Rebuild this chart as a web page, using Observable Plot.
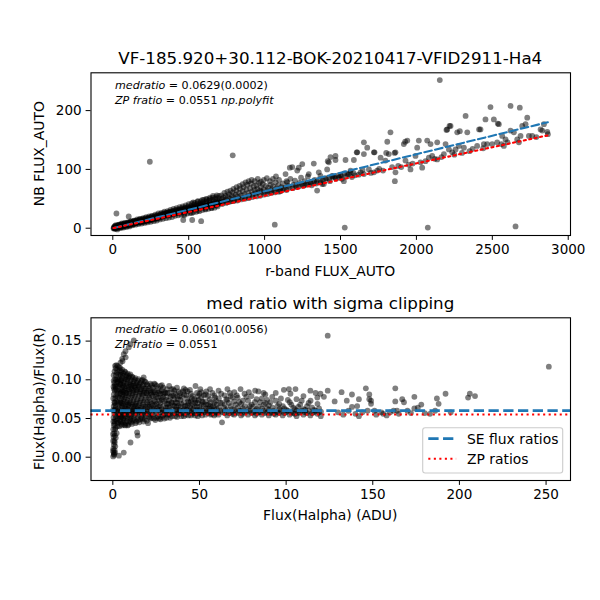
<!DOCTYPE html>
<html><head><meta charset="utf-8">
<script src="https://cdn.jsdelivr.net/npm/d3@7"></script>
<script src="https://cdn.jsdelivr.net/npm/@observablehq/plot@0.6"></script>
<style>
html,body{margin:0;padding:0;background:#fff;}
#fig{position:relative;width:600px;height:600px;font-family:"DejaVu Sans",sans-serif;}
#fig svg{position:absolute;left:0;top:0;}
</style></head><body><div id="fig"></div>
<script>
// ---- text ----
const titleTop = "VF-185.920+30.112-BOK-20210417-VFID2911-Ha4";
const titleBottom = "med ratio with sigma clipping";
const xLabelTop = "r-band FLUX_AUTO";
const yLabelTop = "NB FLUX_AUTO";
const xLabelBottom = "Flux(Halpha) (ADU)";
const yLabelBottom = "Flux(Halpha)/Flux(R)";
const legendLabels = ["SE flux ratios", "ZP ratios"];

// ---- fitted values ----
const seRatioTop = 0.0629, seErrTop = 0.0002;
const seRatioBottom = 0.0601, seErrBottom = 0.0056;
const zpRatio = 0.0551;

// ---- ticks ----
const topXTicks = [0, 500, 1000, 1500, 2000, 2500, 3000];
const topYTicks = [0, 100, 200];
const botXTicks = [0, 50, 100, 150, 200, 250];
const botYTicks = [0, 0.05, 0.10, 0.15];

// ---- top panel: [r-band FLUX_AUTO, NB FLUX_AUTO] ----
const topPoints = [
[5,0],[7,2],[9,-1],[11,1],[13,3],[15,0],[17,2],[19,-1],[21,3],[23,1],[25,2],[27,0],[29,4],[31,2],[33,1],[35,3],[37,5],[39,2],[41,4],[43,1],[45,3],[47,5],[49,2],[52,4],[55,6],[58,3],[61,5],[64,2],[67,6],[70,4],[73,7],[76,3],[79,5],[82,7],[85,4],[88,6],[91,8],[94,5],[97,7],[100,4],[103,8],[106,6],[109,9],[112,5],[115,8],[118,10],[121,7],[124,9],[127,6],[130,10],[133,8],[136,11],[139,7],[142,9],[145,12],[148,8],[151,11],[154,9],[157,12],[160,10],[164,13],[168,9],[172,12],[176,10],[180,14],[184,11],[188,13],[192,10],[196,14],[200,12],[204,15],[208,11],[212,14],[216,13],[220,16],[224,12],[228,15],[232,14],[236,17],[240,13],[244,16],[248,15],[252,18],[256,14],[260,17],[264,16],[268,19],[272,15],[276,18],[280,17],[284,20],[288,16],[292,19],[296,18],[300,21],
[20,5],[40,6],[60,8],[80,9],[100,10],[120,12],[140,13],[160,15],[180,16],[200,17],[220,19],[240,20],[260,21],[280,23],[300,25],[320,26],[340,28],[360,29],[380,31],[400,33],[420,34],[440,36],[460,37],[480,39],[500,41],[520,42],[540,43],[560,45],[580,46],[600,48],[620,49],[640,50],[660,52],[680,53],[700,55],
[30,-2],[50,0],[70,1],[90,2],[110,3],[130,5],[150,6],[170,7],[190,8],[210,9],[230,10],[250,11],[270,12],[290,13],[310,15],[330,16],[350,17],[370,18],[390,19],[410,21],[430,22],[450,23],[470,24],[490,25],[510,26],[530,27],[550,28],[570,29],[590,31],[610,32],[630,33],[650,34],[670,35],[690,37],
[12,0],[22,2],[32,2],[42,3],[52,3],[62,4],[72,5],[82,5],[92,6],[102,6],[112,7],[122,8],[132,8],[142,9],[152,10],[162,10],[172,11],[182,11],[192,12],[202,13],[212,13],[222,14],[232,15],[242,15],[252,16],[262,16],[272,17],[282,18],[292,18],[302,19],[312,20],[322,20],[332,21],[342,22],[352,22],[362,23],[372,23],[382,24],[392,25],[402,25],[412,26],[422,27],[432,27],[442,28],[452,28],[462,29],[472,30],[482,30],[492,31],[502,32],[512,32],[522,33],[532,33],[542,34],[552,35],[562,35],[572,36],[582,37],[592,37],[602,38],[612,38],[622,39],[632,40],[642,40],[652,41],[662,42],[672,42],[682,43],[692,43],[702,44],
[15,4],[35,5],[55,7],[75,8],[95,9],[115,11],[135,12],[155,13],[175,15],[195,16],[215,17],[235,18],[255,20],[275,21],[295,22],[315,24],[335,25],[355,26],[375,28],[395,29],[415,31],[435,32],[455,34],[475,35],[495,37],[515,38],[535,40],[555,41],[575,42],[595,44],[615,45],[635,47],[655,48],[675,50],[695,51],
[304,17],[308,20],[312,22],[316,19],[320,21],[324,23],[328,20],[332,22],[336,25],[340,21],[344,24],[348,22],[352,26],[356,23],[360,25],[364,22],[368,27],[372,24],[376,26],[380,23],[384,28],[388,25],[392,27],[396,24],[400,29],[404,26],[408,28],[412,25],[416,30],[420,27],[424,29],[428,26],[432,31],[436,28],[440,30],[444,27],[448,32],[452,29],[456,31],[460,28],[464,33],[468,30],[472,32],[476,29],[480,34],[484,31],[488,33],[492,30],[496,35],[500,32],[505,34],[510,31],[515,36],[520,33],[525,35],[530,32],[535,37],[540,34],[545,36],[550,33],[555,38],[560,35],[565,37],[570,34],[575,40],[580,36],[585,38],[590,35],[595,41],[600,37],[606,39],[612,36],[618,42],[624,38],[630,40],[636,37],[642,43],[648,39],[654,41],[660,38],[666,45],[672,40],[678,43],[684,39],[690,46],[696,41],[700,44],
[470,22],[520,26],[560,30],[610,33],[650,35],[530,44],[560,46],[590,48],[615,50],[640,52],[660,55],[685,56],[464,14],[523,14],[582,12],[24,25],[105,20],[244,113],[790,124],
[705,47],[712,43],[718,50],[724,45],[730,52],[736,47],[742,55],[748,49],[754,44],[760,53],[766,58],[772,50],[778,46],[784,55],[790,61],[796,52],[802,48],[808,57],[814,64],[820,54],[826,49],[832,60],[838,67],[844,56],[850,51],[856,63],[862,70],[868,58],[874,53],[880,66],[886,74],[892,60],[898,55],[904,68],[910,76],[916,62],[922,57],[928,71],[934,65],[940,59],[946,73],[952,67],[958,61],[964,77],[970,64],[976,70],[982,62],[988,75],[994,66],[1000,60],[1008,72],[1016,64],[1024,69],[1032,62],[1040,74],[1048,66],[1056,71],[1064,64],[1072,78],[1080,68],[1090,73],[1100,66],[1067,6],
[715,56],[735,60],[755,62],[775,64],[795,67],[815,70],[835,72],[855,75],[875,78],[895,80],[915,82],[935,80],[955,84],[975,79],[995,82],[1015,85],[1035,80],[1055,84],[1075,88],[1095,82],
[720,41],[745,43],[770,45],[795,46],[820,47],[845,49],[870,50],[895,51],[920,53],[945,54],[970,55],[995,57],[1020,58],[1045,60],[1070,61],[1095,62],
[1105,63],[1125,66],[1145,65],[1165,69],[1185,68],[1205,72],[1225,71],[1245,74],[1265,73],[1285,77],[1305,76],[1325,80],[1345,79],[1365,83],[1385,82],[1405,85],[1425,84],[1445,88],[1465,87],[1485,90],[1505,89],[1525,93],[1545,92],[1565,95],[1585,94],
[1110,70],[1120,76],[1130,68],[1138,92],[1145,80],[1149,78],[1155,72],[1166,103],[1170,84],[1182,104],[1190,74],[1200,81],[1210,70],[1215,98],[1225,103],[1230,77],[1240,86],[1248,109],[1255,72],[1265,80],[1275,75],[1285,88],[1291,92],[1300,78],[1310,73],[1324,110],[1330,82],[1340,76],[1346,64],[1357,95],[1368,89],[1370,78],[1379,75],[1390,75],[1400,84],[1412,100],[1416,114],[1423,112],[1430,80],[1434,121],[1445,89],[1456,87],[1467,123],[1467,116],[1470,84],[1490,86],[1500,90],[1510,84],[1522,80],[1528,1],[1533,116],[1540,88],[1555,92],[1566,98],[1575,87],[1588,116],[1595,90],
[1607,129],[1610,129],[1620,91],[1632,95],[1645,99],[1654,146],[1654,126],[1654,92],[1676,137],[1687,100],[1700,94],[1720,129],[1720,95],[1724,129],[1742,98],[1755,101],[1764,120],[1780,98],[1796,115],[1801,128],[1808,147],[1818,126],[1829,163],[1840,104],[1856,128],[1858,80],[1862,129],[1862,95],[1880,106],[1900,104],[1917,143],[1926,147],[1928,115],[1940,149],[1950,108],[1961,100],[1975,110],[1994,123],[2005,137],[2016,149],[2027,112],[2038,103],[2060,114],[2071,149],[2075,1],[2082,120],[2093,143],[2104,123],[2120,118],[2137,146],[2137,117],[2154,252],[2165,121],[2181,126],[2192,143],[2198,167],[2203,168],[2214,134],[2218,174],[2225,174],[2236,129],[2250,125],[2258,134],[2269,163],[2280,140],[2286,165],[2300,128],[2313,137],[2324,191],[2335,163],[2350,131],[2370,135],[2400,140],[2413,168],[2422,168],[2440,136],[2444,143],[2455,185],[2466,143],[2488,206],[2499,143],[2510,185],[2532,146],[2536,178],[2543,177],[2560,143],[2565,157],[2576,140],[2587,151],[2600,146],[2620,208],[2620,166],[2642,163],[2653,3],[2664,151],[2675,146],[2681,205],[2686,157],[2697,174],[2719,177],[2730,188],[2741,157],[2763,157],[2790,155],[2818,168],[2829,166],[2840,177],[2862,164],[2866,160]
];

// ---- bottom panel: [Flux(Halpha), Flux(Halpha)/Flux(R)] ----
const bottomPoints = [
[0.2,0.001],[0.5,0.006],[0.3,0.011],[0.8,0.003],[0.6,0.016],[0.2,0.021],[1.0,0.009],[0.4,0.026],[0.8,0.031],[0.3,0.036],[1.1,0.019],[0.6,0.041],[1.0,0.046],[0.4,0.051],[1.3,0.036],[0.8,0.056],[1.2,0.061],[0.5,0.066],[1.5,0.049],[0.9,0.071],[1.4,0.076],[0.6,0.081],[1.7,0.064],[1.1,0.086],[1.6,0.091],[0.8,0.096],[1.9,0.079],[1.3,0.101],[1.8,0.106],[1.0,0.111],[2.1,0.094],[1.6,0.115],[2.3,0.109],[2.0,0.119],[2.6,0.101],[2.4,0.086],[2.7,0.071],[2.5,0.057],[2.8,0.044],[2.2,0.031],[3.0,0.078],[3.2,0.092],[3.1,0.063],[3.3,0.107],[3.0,0.050],[1.7,0.025],[1.4,0.014],[0.3,0.046],[0.2,0.061],[0.3,0.076],[0.4,0.091],[0.5,0.106],
[0.1,0.030],[0.6,0.004],[1.2,0.028],[0.9,0.043],[1.5,0.067],[0.7,0.088],[1.2,0.093],[1.9,0.100],[2.5,0.113],[2.9,0.097],[2.6,0.082],[2.0,0.072],[2.3,0.060],[1.9,0.053],[2.6,0.040],[1.6,0.038],[1.1,0.070],[0.5,0.099],[2.8,0.118],[1.3,0.118],[0.9,0.021],[1.3,0.006],[0.1,0.008],[0.7,0.060],[1.8,0.088],[2.2,0.047],[3.3,0.070],[3.4,0.085],[3.2,0.100],[3.4,0.055],[3.2,0.045],
[3.5,0.002],[6.3,0.006],[10.2,0.019],[14.0,0.032],[14.3,0.028],[3.6,0.116],[4.4,0.122],[5.4,0.127],[6.3,0.133],[7.3,0.137],[9.2,0.142],[10.2,0.146],[12.1,0.151],[7.4,0.129],[5.6,0.124],[124,0.157],[251.6,0.117],
[3.8,0.040],[3.8,0.053],[3.9,0.064],[3.8,0.077],[3.9,0.088],[3.8,0.100],[3.9,0.112],
[4.2,0.047],[4.2,0.059],[4.3,0.071],[4.2,0.082],[4.3,0.095],[4.2,0.107],[4.3,0.115],
[4.6,0.046],[4.6,0.058],[4.7,0.070],[4.6,0.083],[4.7,0.094],[4.6,0.106],
[5.0,0.043],[5.0,0.052],[5.1,0.064],[5.0,0.076],[5.1,0.087],[5.0,0.099],[5.1,0.110],
[5.4,0.041],[5.5,0.054],[5.4,0.066],[5.5,0.078],[5.4,0.090],[5.5,0.102],[5.4,0.113],
[5.8,0.045],[5.8,0.057],[5.9,0.069],[5.8,0.081],[5.9,0.093],[5.8,0.105],
[6.3,0.048],[6.2,0.060],[6.3,0.072],[6.2,0.084],[6.3,0.096],[6.2,0.108],
[6.7,0.042],[6.7,0.051],[6.8,0.063],[6.7,0.075],[6.8,0.086],[6.7,0.098],[6.8,0.111],
[7.2,0.041],[7.1,0.053],[7.2,0.065],[7.1,0.077],[7.2,0.089],[7.1,0.101],[7.2,0.110],
[7.6,0.044],[7.6,0.056],[7.7,0.068],[7.6,0.080],[7.7,0.092],[7.6,0.104],
[8.1,0.047],[8.0,0.059],[8.1,0.071],[8.0,0.083],[8.1,0.095],[8.0,0.106],
[8.5,0.041],[8.5,0.050],[8.6,0.062],[8.5,0.074],[8.6,0.087],[8.5,0.099],[8.6,0.108],
[9.0,0.042],[9.1,0.055],[9.0,0.067],[9.1,0.079],[9.0,0.091],[9.1,0.103],
[9.5,0.046],[9.5,0.058],[9.6,0.070],[9.5,0.082],[9.6,0.094],[9.5,0.105],
[10.0,0.049],[9.9,0.061],[10.0,0.073],[9.9,0.085],[10.0,0.097],[10.1,0.107],
[10.5,0.045],[10.5,0.053],[10.6,0.065],[10.5,0.077],[10.6,0.089],[10.5,0.100],
[11.0,0.043],[11.1,0.056],[11.0,0.068],[11.1,0.080],[11.0,0.092],[11.1,0.104],
[11.5,0.047],[11.5,0.059],[11.6,0.071],[11.5,0.083],[11.6,0.095],[11.5,0.103],
[12.0,0.050],[12.1,0.062],[12.0,0.074],[12.1,0.086],[12.0,0.098],
[12.6,0.048],[12.6,0.054],[12.7,0.066],[12.6,0.078],[12.7,0.090],[12.6,0.100],
[13.1,0.044],[13.0,0.057],[13.1,0.069],[13.0,0.081],[13.1,0.093],[13.0,0.102],
[13.6,0.046],[13.6,0.060],[13.7,0.072],[13.6,0.084],[13.7,0.096],
[14.2,0.051],[14.1,0.063],[14.2,0.075],[14.1,0.087],[14.2,0.099],
[14.8,0.048],[14.8,0.055],[14.9,0.067],[14.8,0.079],[14.9,0.091],[14.8,0.101],
[15.3,0.045],[15.4,0.058],[15.3,0.070],[15.4,0.082],[15.3,0.094],
[15.9,0.049],[15.9,0.061],[16.0,0.073],[15.9,0.085],[16.0,0.096],
[16.5,0.052],[16.4,0.064],[16.5,0.076],[16.4,0.088],[16.5,0.099],
[17.1,0.050],[17.1,0.056],[17.2,0.068],[17.1,0.080],[17.2,0.092],[17.1,0.100],
[17.7,0.046],[17.8,0.059],[17.7,0.071],[17.8,0.083],[17.7,0.094],[17.8,0.103],
[18.3,0.049],[18.3,0.062],[18.4,0.074],[18.3,0.086],[18.4,0.098],
[19.0,0.053],[18.9,0.065],[19.0,0.077],[18.9,0.089],[19.0,0.097],
[19.6,0.047],[19.6,0.059],[19.7,0.071],[19.6,0.083],[19.7,0.094],
[20.3,0.044],[20.2,0.056],[20.3,0.068],[20.2,0.080],[20.3,0.092],
[21.0,0.052],[21.0,0.059],[21.1,0.065],[21.0,0.077],[21.1,0.089],
[21.6,0.050],[21.7,0.062],[21.6,0.074],[21.7,0.086],[21.6,0.095],
[22.3,0.051],[22.3,0.057],[22.4,0.069],[22.3,0.081],[22.4,0.093],
[23.0,0.055],[23.1,0.067],[23.0,0.079],[23.1,0.090],
[23.8,0.050],[23.8,0.062],[23.9,0.074],[23.8,0.086],[23.9,0.095],
[24.5,0.048],[24.4,0.060],[24.5,0.072],[24.4,0.084],[24.5,0.094],
[25.2,0.051],[25.2,0.057],[25.3,0.069],[25.2,0.081],[25.3,0.092],
[26.0,0.053],[26.1,0.065],[26.0,0.077],[26.1,0.089],
[26.8,0.050],[26.8,0.061],[26.9,0.073],[26.8,0.085],
[27.5,0.049],[27.4,0.058],[27.5,0.070],[27.4,0.082],[27.5,0.092],
[28.2,0.052],[28.2,0.062],[28.3,0.074],[28.2,0.086],[28.3,0.093],
[29.0,0.054],[29.1,0.066],[29.0,0.078],[29.1,0.090],
[29.7,0.050],[29.7,0.060],[29.8,0.072],[29.7,0.084],
[4.0,0.094],[4.4,0.052],[4.8,0.100],[5.2,0.070],[5.6,0.085],[6.0,0.050],[6.5,0.091],[6.9,0.057],[7.4,0.083],[7.8,0.062],[8.3,0.101],[8.8,0.068],[9.3,0.087],[9.8,0.052],[10.3,0.093],[10.8,0.060],[11.3,0.087],[11.8,0.066],[12.3,0.092],[12.9,0.060],[13.4,0.087],[13.9,0.066],[14.5,0.093],[15.0,0.061],[15.6,0.088],[16.2,0.058],[16.8,0.082],[17.4,0.065],[18.0,0.089],[18.6,0.056],[19.3,0.083],[19.9,0.065],[20.6,0.086],[21.3,0.071],[22.0,0.083],[22.7,0.063],[23.4,0.084],[24.1,0.068],[24.8,0.078],[25.6,0.063],[26.4,0.083],[27.1,0.066],[27.8,0.077],[28.6,0.058],[29.3,0.082],
[31,0.051],[31,0.060],[31.2,0.069],[31,0.078],[31.2,0.088],
[32.5,0.055],[32.6,0.064],[32.5,0.073],[32.6,0.083],[32.5,0.092],
[34,0.053],[34.1,0.062],[34,0.071],[34.1,0.080],
[35.5,0.057],[35.6,0.066],[35.5,0.075],[35.6,0.086],
[37,0.052],[37.1,0.061],[37,0.070],[37.1,0.079],[37,0.090],
[39,0.056],[39.1,0.065],[39,0.074],[39.1,0.083],
[41,0.053],[41.1,0.062],[41,0.071],[41.1,0.081],[41,0.089],
[43,0.058],[43.1,0.067],[43,0.076],[43.1,0.085],
[45,0.054],[45.1,0.063],[45,0.072],[45.1,0.082],
[47,0.057],[47.1,0.066],[47,0.075],[47.7,0.092],
[49,0.053],[49.1,0.061],[49,0.070],[49.1,0.079],
[51,0.058],[51.1,0.068],[51,0.077],[51.1,0.084],
[53.5,0.055],[53.6,0.063],[53.5,0.072],[53.6,0.081],
[56,0.059],[56.1,0.066],[56,0.075],[56.1,0.088],
[58.5,0.054],[58.6,0.062],[58.5,0.070],[58.6,0.080],
[30.3,0.056],[30.3,0.083],[31.8,0.065],[33.3,0.059],[33.3,0.078],[34.8,0.067],[34.8,0.088],[36.3,0.061],[36.3,0.071],[38,0.058],[38,0.067],[38,0.085],[40,0.060],[40,0.078],[42,0.055],[42,0.066],[42,0.087],[44,0.060],[44,0.070],[46,0.056],[46,0.069],[46,0.079],[48,0.060],[48,0.073],[50,0.056],[50,0.065],[50,0.082],[52,0.060],[52,0.071],[55,0.057],[55,0.068],[55,0.079],[57,0.056],[57,0.064],[59.5,0.058],[59.5,0.073],
[30.7,0.064],[30.7,0.074],[31.5,0.055],[31.5,0.083],[32,0.069],[33,0.051],[33.8,0.070],[33.8,0.088],[34.5,0.057],[35,0.079],[36,0.053],[36,0.082],[36.7,0.065],[37.5,0.056],[37.5,0.075],[38.5,0.061],[38.5,0.079],[39.5,0.053],[39.5,0.069],[40.5,0.057],[40.5,0.085],[41.5,0.066],[42.5,0.061],[42.5,0.080],[43.5,0.054],[43.5,0.072],[44.5,0.065],[44.5,0.087],[45.5,0.058],[45.5,0.076],[46.5,0.062],[47.5,0.054],[47.5,0.070],[48.5,0.065],[48.5,0.083],[49.5,0.057],[49.5,0.074],[50.5,0.061],[50.5,0.088],[51.5,0.054],[51.5,0.072],[52.5,0.066],[52.5,0.080],[53,0.058],[54,0.068],[54,0.085],[54.5,0.060],[55.5,0.063],[56.5,0.055],[56.5,0.071],[57.5,0.060],[57.5,0.083],[58,0.066],[59,0.056],[59,0.077],[60,0.062],[60,0.068],
[61,0.055],[61,0.064],[61.2,0.076],[61,0.086],
[63,0.045],[63.2,0.058],[63,0.070],
[64.5,0.057],[64.6,0.068],[64.5,0.080],
[66,0.054],[66.1,0.062],[66,0.074],[66.1,0.088],
[68,0.058],[68.1,0.066],[68,0.079],
[70,0.055],[70.1,0.061],[70,0.072],[70.1,0.084],
[72,0.057],[72.1,0.064],[72,0.077],
[73.7,0.088],[74,0.054],[74.1,0.060],[74,0.069],
[76,0.058],[76.1,0.066],[76,0.082],
[78,0.055],[78.1,0.062],[78,0.073],
[80,0.057],[80.1,0.068],[80,0.079],
[82,0.054],[82.1,0.060],[82,0.071],[82.1,0.086],
[84,0.058],[84.1,0.065],[84,0.085],
[86,0.055],[86.1,0.063],[86,0.076],
[88,0.057],[88.1,0.070],[88,0.081],
[90,0.054],[90.1,0.061],[90,0.067],
[92,0.058],[92.1,0.064],[92,0.078],
[94,0.055],[94.1,0.073],[94,0.083],
[96,0.057],[96.1,0.062],[96,0.069],
[98,0.054],[98.1,0.066],[98.7,0.087],
[100,0.058],[100.1,0.061],[101.6,0.088],
[102,0.055],[102.1,0.071],[102.5,0.082],
[104,0.057],[104.1,0.064],[105.4,0.088],
[106,0.053],[106.1,0.060],[106,0.075],
[108,0.058],[108.1,0.068],
[110,0.055],[110.1,0.062],[110,0.079],
[112,0.057],[112.1,0.066],
[114,0.054],[114.1,0.073],[114,0.086],
[116,0.058],[116.1,0.061],
[118,0.056],[118.1,0.069],[118,0.077],
[119.8,0.082],[120,0.053],[120.1,0.059],[121.8,0.078],
[62,0.060],[62,0.070],[65,0.061],[67,0.057],[67,0.070],[69,0.062],[71,0.058],[71,0.068],[73,0.060],[75,0.056],[75,0.073],[77,0.059],[79,0.060],[79,0.066],[81,0.058],[83,0.062],[83,0.075],[85,0.058],[87,0.060],[89,0.058],[89,0.074],[91,0.057],[93,0.060],[95,0.058],[97,0.060],[99,0.057],[101,0.060],[103,0.058],[105,0.062],[107,0.057],[109,0.060],[111,0.058],[113,0.060],[115,0.057],[117,0.060],[119,0.058],
[60.5,0.058],[62.5,0.082],[64,0.064],[65.5,0.075],[67.5,0.083],[69,0.056],[69,0.077],[71.5,0.080],[73,0.071],[75,0.063],[77,0.078],[78.5,0.084],[81,0.065],[83,0.056],[85,0.071],[87,0.068],[87,0.083],[89,0.063],[91,0.071],[93,0.056],[95,0.066],[97,0.076],[99,0.063],[101,0.074],[103,0.068],[105,0.056],[107,0.065],[109,0.073],[111,0.061],[113,0.070],[115,0.064],[117,0.083],[119,0.063],
[124,0.086],[128,0.072],[130,0.058],[132,0.084],[133,0.055],[135,0.073],[136,0.060],[138,0.081],[138,0.065],[140,0.056],[141,0.066],[142,0.075],[142,0.053],[144,0.058],[146,0.089],[147,0.060],[148,0.081],[148,0.075],[149,0.073],[149,0.069],[151,0.060],[152,0.055],[155,0.058],[156,0.056],[158,0.054],[160,0.058],[162,0.060],[163,0.089],[163,0.072],[164,0.060],[165,0.056],[167,0.075],[168,0.071],[170,0.060],[172,0.057],[174,0.078],[174,0.063],[176,0.064],[178,0.068],[180,0.057],[183,0.056],[186,0.060],[187,0.076],[188,0.069],[192,0.082],[195,0.058],[205,0.077],[206,0.082],[209,0.079]
];

// ---- colours ----
const seColor = "#1f77b4", zpColor = "#ff0000";

// ---- layout (pixels in the 600x600 figure) ----
const W = 600, H = 600;
const axL = 90.5, axR = 570;
const topBox = {top: 72.3, bottom: 235};
const botBox = {top: 317.3, bottom: 480};
const fsTick = "13.5px", fsLabel = 13.9, fsTitle = 16.7, fsNote = 11.1;
const dotR = 2.9;

const fig = d3.select("#fig");

// layer under the plots (titles, labels, annotations)
const under = fig.append("svg").attr("width", W).attr("height", H)
  .style("font-family", "'DejaVu Sans', sans-serif");
const cx = (axL + axR) / 2;
under.append("text").attr("x", cx).attr("y", topBox.top - 8.3).attr("text-anchor", "middle")
  .attr("font-size", fsTitle).text(titleTop);
under.append("text").attr("x", cx).attr("y", botBox.top - 8.3).attr("text-anchor", "middle")
  .attr("font-size", fsTitle).text(titleBottom);
under.append("text").attr("x", cx).attr("y", 275.5).attr("text-anchor", "middle")
  .attr("font-size", fsLabel).text(xLabelTop);
under.append("text").attr("x", cx).attr("y", 520).attr("text-anchor", "middle")
  .attr("font-size", fsLabel).text(xLabelBottom);
under.append("text").attr("transform", `translate(44,${(topBox.top + topBox.bottom) / 2}) rotate(-90)`)
  .attr("text-anchor", "middle").attr("font-size", fsLabel).text(yLabelTop);
under.append("text").attr("transform", `translate(44,${(botBox.top + botBox.bottom) / 2}) rotate(-90)`)
  .attr("text-anchor", "middle").attr("font-size", fsLabel).text(yLabelBottom);

function note(y, parts) {
  const t = under.append("text").attr("x", 115).attr("y", y).attr("font-size", fsNote);
  parts.forEach(([s, it]) => t.append("tspan").attr("font-style", it ? "italic" : "normal").text(s));
}
note(89, [["medratio", true], [` = ${seRatioTop.toFixed(4)}(${seErrTop.toFixed(4)})`, false]]);
note(104, [["ZP  fratio", true], [` = ${zpRatio.toFixed(4)} `, false], ["np.polyfit", true]]);
note(333, [["medratio", true], [` = ${seRatioBottom.toFixed(4)}(${seErrBottom.toFixed(4)})`, false]]);
note(348, [["ZP  fratio", true], [` = ${zpRatio.toFixed(4)}`, false]]);

// ---- top plot ----
const rExt = d3.extent(topPoints, d => d[0]);
const seLineTop = rExt.map(r => ({x: r, y: r * seRatioTop}));
const zpLineTop = rExt.map(r => ({x: r, y: r * zpRatio}));

const commonStyle = {fontFamily: "'DejaVu Sans', sans-serif", fontSize: fsTick, color: "black", background: "transparent", overflow: "visible"};

const plotTop = Plot.plot({
  width: W, height: H,
  marginLeft: axL, marginRight: W - axR, marginTop: topBox.top, marginBottom: H - topBox.bottom,
  style: commonStyle,
  x: {domain: [-143.6, 3015]},
  y: {domain: [-12.4, 264.3]},
  marks: [
    Plot.dot(topPoints, {x: d => d[0], y: d => d[1], r: dotR, fill: "black", fillOpacity: 0.5}),
    Plot.line(seLineTop, {x: "x", y: "y", stroke: seColor, strokeWidth: 2.08, strokeDasharray: "7.7 3.33"}),
    Plot.line(zpLineTop, {x: "x", y: "y", stroke: zpColor, strokeWidth: 2.08, strokeDasharray: "2.08 3.44"}),
    Plot.frame({stroke: "black", strokeWidth: 1.1}),
    Plot.axisX({ticks: topXTicks, tickFormat: d => String(d), tickSize: 4.9, tickPadding: 4.5, label: null}),
    Plot.axisY({ticks: topYTicks, tickFormat: d => String(d), tickSize: 4.9, tickPadding: 4.5, label: null})
  ]
});
fig.node().appendChild(plotTop);

// ---- bottom plot ----
const plotBot = Plot.plot({
  width: W, height: H,
  marginLeft: axL, marginRight: W - axR, marginTop: botBox.top, marginBottom: H - botBox.bottom,
  style: commonStyle,
  x: {domain: [-12.6, 264.1]},
  y: {domain: [-0.0301, 0.1801]},
  marks: [
    Plot.dot(bottomPoints, {x: d => d[0], y: d => d[1], r: dotR, fill: "black", fillOpacity: 0.5}),
    Plot.ruleY([seRatioBottom], {stroke: seColor, strokeWidth: 2.78, strokeDasharray: "10.3 4.44"}),
    Plot.ruleY([zpRatio], {stroke: zpColor, strokeWidth: 2.08, strokeDasharray: "2.08 3.44"}),
    Plot.frame({stroke: "black", strokeWidth: 1.1}),
    Plot.axisX({ticks: botXTicks, tickFormat: d => String(d), tickSize: 4.9, tickPadding: 4.5, label: null}),
    Plot.axisY({ticks: botYTicks, tickFormat: d => d.toFixed(2), tickSize: 4.9, tickPadding: 4.5, label: null})
  ]
});
fig.node().appendChild(plotBot);

// ---- legend (bottom panel) ----
const leg = fig.append("svg").attr("width", W).attr("height", H)
  .style("font-family", "'DejaVu Sans', sans-serif");
const lx = 422.7, ly = 427.7, lw = 140, lh = 45.3;
leg.append("rect").attr("x", lx).attr("y", ly).attr("width", lw).attr("height", lh).attr("rx", 2.5)
  .attr("fill", "white").attr("fill-opacity", 0.8).attr("stroke", "#cccccc").attr("stroke-width", 1.1);
const legStyles = [
  {color: seColor, w: 2.78, dash: "10.3 4.44"},
  {color: zpColor, w: 2.08, dash: "2.08 3.44"}
];
legendLabels.forEach((lab, i) => {
  const yc = 438.7 + i * 20;
  leg.append("line").attr("x1", 428.3).attr("x2", 456.1).attr("y1", yc).attr("y2", yc)
    .attr("stroke", legStyles[i].color).attr("stroke-width", legStyles[i].w).attr("stroke-dasharray", legStyles[i].dash);
  leg.append("text").attr("x", 467).attr("y", yc + 5).attr("font-size", fsLabel).text(lab);
});
</script></body></html>
